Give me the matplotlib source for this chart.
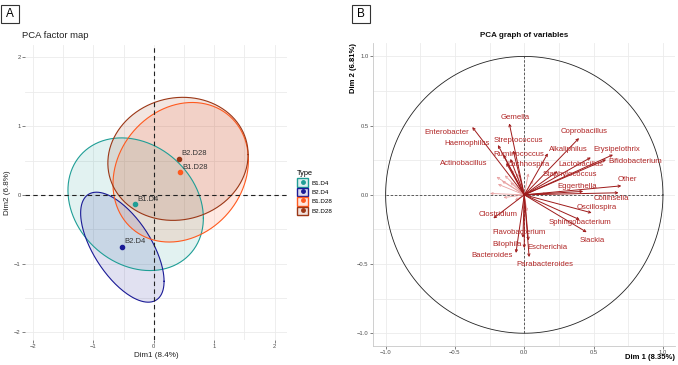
import numpy as np
import matplotlib
matplotlib.use("Agg")
import matplotlib.pyplot as plt
from matplotlib.patches import Patch, Rectangle
from matplotlib.lines import Line2D
from matplotlib.legend_handler import HandlerTuple

plt.rcParams['font.family'] = ['Liberation Sans', 'DejaVu Sans']

# ---- Panel A data: group centres and confidence ellipses
groups = ["B1.D4", "B2.D4", "B1.D28", "B2.D28"]
cx = [-0.31, -0.52, 0.43, 0.41]
cy = [-0.13, -0.75, 0.33, 0.53]
ell_cx = [-0.30, -0.52, 0.445, 0.40]
ell_cy = [-0.135, -0.76, 0.33, 0.525]
ell_hx = [1.12, 0.69, 1.12, 1.16]
ell_hy = [0.965, 0.80, 1.015, 0.895]
ell_rho = [-0.21, -0.62, 0.17, 0.07]
group_colors = ["#1f9e96", "#1a1a96", "#ff5a1f", "#9b3716"]

# ---- Panel B data: variable coordinates
var_names = ["Enterobacter", "Gemella", "Haemophilus", "Streptococcus", "Ruminococcus",
             "Actinobacillus", "Lachnospira", "Coprobacillus", "Alkaliphilus", "Erysipelothrix",
             "Lactobacillus", "Bifidobacterium", "Staphylococcus", "Other", "Eggerthella",
             "Collinsella", "Oscillospira", "Sphingobacterium", "Slackia", "Clostridium",
             "Flavobacterium", "Bilophila", "Escherichia", "Bacteroides", "Parabacteroides"]
dim1 = [-0.375, -0.108, -0.19, -0.08, -0.10, -0.15, -0.13, 0.395, 0.17, 0.64,
        0.48, 0.59, 0.24, 0.70, 0.425, 0.68, 0.486, 0.40, 0.45, -0.223,
        -0.01, 0.0, 0.03, -0.06, 0.035]
dim2 = [0.49, 0.516, 0.36, 0.32, 0.26, 0.29, 0.23, 0.41, 0.30, 0.29,
        0.27, 0.255, 0.17, 0.065, 0.025, 0.015, -0.13, -0.18, -0.27, -0.17,
        -0.31, -0.385, -0.33, -0.42, -0.45]
label_x = [-0.56, -0.067, -0.415, -0.04, -0.04, -0.44, 0.03, 0.43, 0.32, 0.666,
           0.41, 0.80, 0.33, 0.74, 0.378, 0.63, 0.52, 0.405, 0.49, -0.19,
           -0.04, -0.127, 0.168, -0.235, 0.15]
label_y = [0.45, 0.56, 0.37, 0.395, 0.294, 0.23, 0.22, 0.455, 0.33, 0.33,
           0.22, 0.24, 0.147, 0.11, 0.063, -0.026, -0.09, -0.20, -0.33, -0.14,
           -0.27, -0.36, -0.38, -0.436, -0.50]
# low-contribution variables (faint, unlabeled)
faint_x = [-0.247, -0.15, -0.067, -0.19, -0.16, -0.14, -0.09, -0.055, 0.03, 0.065, 0.16, -0.20, -0.10, 0.02]
faint_y = [0.01, -0.02, -0.04, 0.077, 0.10, 0.14, 0.18, 0.155, 0.155, 0.106, 0.01, 0.13, 0.09, -0.12]

fig = plt.figure(figsize=(6.78, 3.65), dpi=100)

# ================= Panel A =================
axA = fig.add_axes([0.0369, 0.0685, 0.387, 0.808])
axA.set_xlim(-2.13, 2.21)
axA.set_ylim(-2.11, 2.18)
axA.set_xticks([-2, -1, 0, 1, 2])
axA.set_yticks([-2, -1, 0, 1, 2])
axA.set_xticks(np.arange(-1.5, 2, 1.0), minor=True)
axA.set_yticks(np.arange(-1.5, 2, 1.0), minor=True)
axA.grid(True, which='both', color='#ebebeb', lw=0.6)
axA.set_axisbelow(True)
for s in axA.spines.values():
    s.set_visible(False)
axA.tick_params(which='major', labelsize=4.2, colors='#4d4d4d', length=2, width=0.5, pad=1)
axA.tick_params(which='minor', length=0)

t = np.linspace(0, 2 * np.pi, 200)
for i, g in enumerate(groups):
    ex = ell_cx[i] + ell_hx[i] * np.cos(t)
    ey = ell_cy[i] + ell_hy[i] * (ell_rho[i] * np.cos(t) + np.sqrt(1 - ell_rho[i] ** 2) * np.sin(t))
    axA.fill(ex, ey, color=group_colors[i], alpha=0.13, lw=0)
    axA.plot(ex, ey, color=group_colors[i], lw=0.8)

axA.axhline(0, color='#222222', ls=(0, (4, 3)), lw=0.8)
axA.axvline(0, color='#222222', ls=(0, (4, 3)), lw=0.8)

for i, g in enumerate(groups):
    axA.plot(cx[i], cy[i], 'o', color=group_colors[i], ms=3)
    axA.text(cx[i] + 0.04, cy[i] + 0.02, g, fontsize=5.5, color='#333333', va='bottom', ha='left')

axA.set_xlabel("Dim1 (8.4%)", fontsize=5.8, color='#222222', labelpad=2)
axA.set_ylabel("Dim2 (6.8%)", fontsize=5.8, color='#222222', labelpad=2)
fig.text(0.0325, 0.904, "PCA factor map", fontsize=6.8, color='#222222', va='center', ha='left')

handles = [(Patch(facecolor=c + "26", edgecolor=c, lw=1.0),
            Line2D([], [], marker='o', color=c, ls='', ms=2.5)) for c in group_colors]
fig.legend(handles, groups, title="Type", loc='upper left', bbox_to_anchor=(0.432, 0.545),
           frameon=False, fontsize=4.5, title_fontsize=5.3, handlelength=1.7, handleheight=1.7,
           handletextpad=0.5, labelspacing=0.15, borderpad=0.2,
           handler_map={tuple: HandlerTuple(ndivide=1, pad=0)}, alignment='left')

# ================= Panel B =================
axB = fig.add_axes([0.5497, 0.0529, 0.4459, 0.8285])
axB.set_xlim(-1.093, 1.087)
axB.set_ylim(-1.09, 1.095)
axB.set_xticks([-1.0, -0.5, 0.0, 0.5, 1.0])
axB.set_yticks([-1.0, -0.5, 0.0, 0.5, 1.0])
axB.set_xticks([-0.75, -0.25, 0.25, 0.75], minor=True)
axB.set_yticks([-0.75, -0.25, 0.25, 0.75], minor=True)
axB.grid(True, which='both', color='#ebebeb', lw=0.6)
axB.set_axisbelow(True)
for k in ['top', 'right']:
    axB.spines[k].set_visible(False)
for k in ['left', 'bottom']:
    axB.spines[k].set_color('#c8c8c8')
    axB.spines[k].set_linewidth(0.6)
axB.tick_params(which='major', labelsize=4.2, colors='#4d4d4d', length=2, width=0.5, pad=1)
axB.tick_params(which='minor', length=0)

axB.plot(np.cos(t), np.sin(t), color='#222222', lw=0.6)
axB.plot([-1, 1], [0, 0], color='#444444', ls=(0, (3, 2)), lw=0.6)
axB.plot([0, 0], [-1, 1], color='#444444', ls=(0, (3, 2)), lw=0.6)

for x, y in zip(faint_x, faint_y):
    axB.annotate("", xy=(x, y), xytext=(0, 0),
                 arrowprops=dict(arrowstyle='->', color='#e8a0a0', lw=0.6,
                                 mutation_scale=4, shrinkA=0, shrinkB=0))
for i, name in enumerate(var_names):
    axB.annotate("", xy=(dim1[i], dim2[i]), xytext=(0, 0),
                 arrowprops=dict(arrowstyle='->', color='#9e1a1a', lw=0.7,
                                 mutation_scale=4, shrinkA=0, shrinkB=0))
    axB.text(label_x[i], label_y[i], name, fontsize=5.6, color='#b02525',
             ha='center', va='center')

fig.text(0.7735, 0.904, "PCA graph of variables", fontsize=5.8, fontweight='bold',
         ha='center', va='center', color='#111111')
fig.text(0.996, 0.011, "Dim 1 (8.35%)", fontsize=5.5, fontweight='bold', ha='right', va='bottom')
fig.text(0.522, 0.882, "Dim 2 (6.81%)", fontsize=5.5, fontweight='bold', rotation=90,
         ha='center', va='top')

# ---- panel tags
for x0, y0, tag in [(0.0015, 0.937, "A"), (0.5187, 0.937, "B")]:
    fig.patches.append(Rectangle((x0, y0), 0.0265, 0.049, transform=fig.transFigure,
                                 fill=False, edgecolor='#333333', lw=0.8))
    fig.text(x0 + 0.0133, y0 + 0.0245, tag, fontsize=8.5, ha='center', va='center')

fig.savefig("out.png", dpi=100)
